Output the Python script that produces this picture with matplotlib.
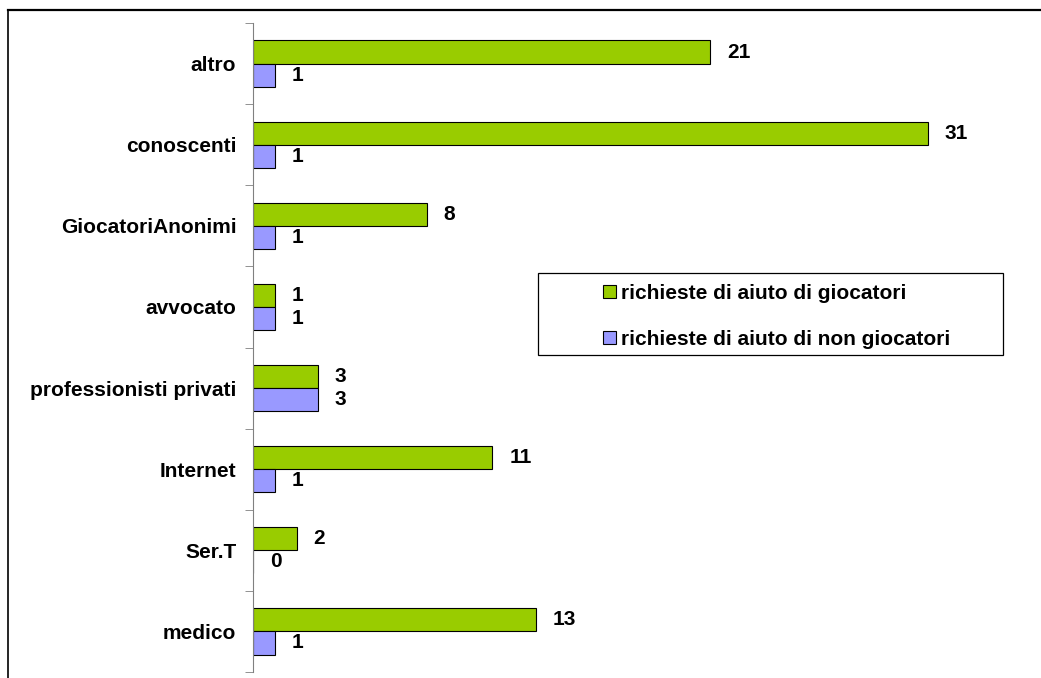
import numpy as np
import matplotlib.pyplot as plt
from matplotlib.lines import Line2D
from matplotlib.patches import Rectangle

categories = ['altro', 'conoscenti', 'GiocatoriAnonimi', 'avvocato',
              'professionisti privati', 'Internet', 'Ser.T', 'medico']
giocatori = [21, 31, 8, 1, 3, 11, 2, 13]
non_giocatori = [1, 1, 1, 1, 3, 1, 0, 1]
series_names = ['richieste di aiuto di giocatori',
                'richieste di aiuto di non giocatori']

W, H = 1041, 678
fig = plt.figure(figsize=(W / 100, H / 100), dpi=100)
plt.rcParams['font.family'] = ['Liberation Sans', 'DejaVu Sans']
fs = 15

# axes box in pixels: left 253, top 23, bottom 672
ax = fig.add_axes([253 / W, (H - 672) / H, (W - 253) / W, (672 - 23) / H])

n = len(categories)
ind = np.arange(n)
h = 0.285

b1 = ax.barh(ind - h / 2, giocatori, h, color='#99CC00', edgecolor='black', linewidth=0.8,
             label=series_names[0])
b2 = ax.barh(ind + h / 2, non_giocatori, h, color='#9999FF', edgecolor='black', linewidth=0.8,
             label=series_names[1])

for rects in (b1, b2):
    for r in rects:
        v = r.get_width()
        ax.annotate('%d' % v, (v, r.get_y() + r.get_height() / 2), xytext=(12, 0),
                    textcoords='offset points', va='center', ha='left',
                    fontsize=fs, fontweight='bold')

ax.set_ylim(n - 0.5, -0.5)
ax.set_xlim(0, (W - 253) / 21.77)

ax.set_yticks(ind)
ax.set_yticklabels(categories, fontsize=fs, fontweight='bold')
ax.set_yticks(np.arange(n + 1) - 0.5, minor=True)
ax.tick_params(axis='y', which='major', length=0, pad=12)
ax.tick_params(axis='y', which='minor', length=6, color='#808080')
ax.spines['left'].set_color('#808080')
for s in ('top', 'right', 'bottom'):
    ax.spines[s].set_visible(False)
ax.set_xticks([])

# legend entries without frame, the box is drawn separately
leg = fig.legend(loc='upper left', bbox_to_anchor=(603 / W, 1 - 284 / H),
                 prop={'size': fs, 'weight': 'bold'}, frameon=False,
                 handlelength=0.6, handleheight=0.6, borderpad=0,
                 labelspacing=1.3, handletextpad=0.25, borderaxespad=0)
fig.add_artist(Rectangle((538 / W, 1 - 355 / H), (1003 - 538) / W, (355 - 273) / H,
                         transform=fig.transFigure, fill=False,
                         edgecolor='black', linewidth=0.9))

# outer chart frame
fig.add_artist(Line2D([8 / W, 1], [1 - 10 / H, 1 - 10 / H], color='black', linewidth=1.6))
fig.add_artist(Line2D([8 / W, 8 / W], [0, 1 - 10 / H], color='black', linewidth=1.2))

fig.savefig('out.png', dpi=100)
